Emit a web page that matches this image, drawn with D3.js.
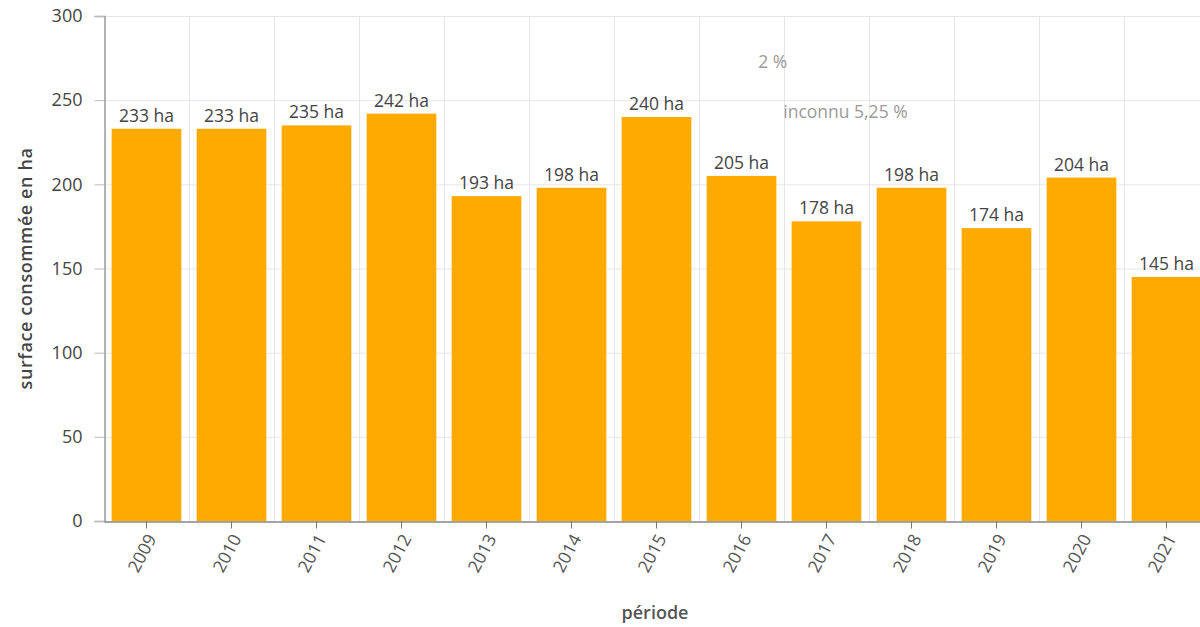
<!DOCTYPE html>
<html lang="fr">
<head>
<meta charset="utf-8">
<script src="https://cdn.jsdelivr.net/npm/d3@7"></script>
<style>
  html, body { margin: 0; padding: 0; background: #fff; }
  svg { display: block; font-family: "Open Sans", "Noto Sans", sans-serif; }
</style>
</head>
<body>
<svg id="chart" width="1200" height="627"></svg>
<script>
// Surface consommée par année (ha)
const years = ["2009","2010","2011","2012","2013","2014","2015","2016","2017","2018","2019","2020","2021"];
const surfaces = [233, 233, 235, 242, 193, 198, 240, 205, 178, 198, 174, 204, 145];
const yTicks = [0, 50, 100, 150, 200, 250, 300];
const notes = [
  { text: "2 %", year: "2016", frac: 0.74, value: 269 },
  { text: "inconnu 5,25 %", year: "2017", frac: -0.12, value: 239.5 }
];

(function draw() {
  const svg = d3.select("#chart");
  const plotLeft = 104, plotTop = 16, plotBottom = 521;
  const step = 85;

  const x = d3.scaleBand()
    .domain(years)
    .range([plotLeft, plotLeft + step * years.length])
    .paddingInner(0.18)
    .paddingOuter(0.09);

  const y = d3.scaleLinear().domain([0, 300]).range([plotBottom, plotTop]);

  // horizontal grid
  svg.append("g").selectAll("line").data(yTicks).join("line")
    .attr("x1", plotLeft).attr("x2", 1200)
    .attr("y1", d => y(d) + 0.5).attr("y2", d => y(d) + 0.5)
    .attr("stroke", "#e6e6e6").attr("stroke-width", 1);

  // vertical grid at band boundaries
  const boundary = d => Math.round(x(d) - x.step() * x.paddingInner() / 2) + 0.5;
  svg.append("g").selectAll("line").data(years.slice(1)).join("line")
    .attr("x1", boundary).attr("x2", boundary)
    .attr("y1", plotTop).attr("y2", plotBottom)
    .attr("stroke", "#e6e6e6").attr("stroke-width", 1);

  // bars
  svg.append("g").selectAll("rect").data(years).join("rect")
    .attr("x", d => x(d))
    .attr("width", x.bandwidth())
    .attr("y", (d, i) => y(surfaces[i]))
    .attr("height", (d, i) => plotBottom - y(surfaces[i]))
    .attr("fill", "#ffaa00");

  // value labels
  svg.append("g").selectAll("text").data(years).join("text")
    .attr("x", d => x(d) + x.bandwidth() / 2)
    .attr("y", (d, i) => y(surfaces[i]) - 7)
    .attr("text-anchor", "middle")
    .attr("font-size", 17.5)
    .attr("fill", "#444")
    .text((d, i) => surfaces[i] + " ha");

  // floating annotation labels
  svg.append("g").selectAll("text").data(notes).join("text")
    .attr("x", d => x(d.year) + x.bandwidth() * d.frac)
    .attr("y", d => y(d.value))
    .attr("font-size", 17.5)
    .attr("fill", "#9a9a9a")
    .text(d => d.text);

  // y axis
  const yAxis = svg.append("g")
    .attr("transform", `translate(${plotLeft + 0.5},0)`)
    .call(d3.axisLeft(y).tickValues(yTicks).tickSize(10).tickPadding(12));
  yAxis.select(".domain").attr("stroke", "#999").attr("stroke-width", 1.5);
  yAxis.selectAll(".tick line").attr("stroke", "#bbb");
  yAxis.selectAll(".tick text").attr("font-size", 18).attr("fill", "#444")
    .attr("font-family", "'Open Sans', sans-serif");

  // x axis
  const xAxis = svg.append("g")
    .attr("transform", `translate(0,${plotBottom + 0.5})`)
    .call(d3.axisBottom(x).tickSize(7).tickSizeOuter(0));
  xAxis.select(".domain").attr("stroke", "#888").attr("stroke-width", 1.5);
  xAxis.selectAll(".tick line").attr("stroke", "#777");
  xAxis.selectAll(".tick text")
    .attr("font-size", 17.5).attr("fill", "#555")
    .attr("font-family", "'Open Sans', sans-serif")
    .attr("text-anchor", "end")
    .attr("dy", "0.35em")
    .attr("transform", "translate(5,14) rotate(-62)")
    .attr("x", 0).attr("y", 0);

  // axis titles
  svg.append("text")
    .attr("transform", `translate(32,${(plotTop + plotBottom) / 2}) rotate(-90)`)
    .attr("text-anchor", "middle")
    .attr("font-size", 18).attr("font-weight", 600).attr("fill", "#444")
    .attr("letter-spacing", 0.6)
    .text("surface consommée en ha");

  svg.append("text")
    .attr("x", 655).attr("y", 619)
    .attr("text-anchor", "middle")
    .attr("font-size", 18).attr("font-weight", 600).attr("fill", "#555")
    .text("période");
})();
</script>
</body>
</html>
